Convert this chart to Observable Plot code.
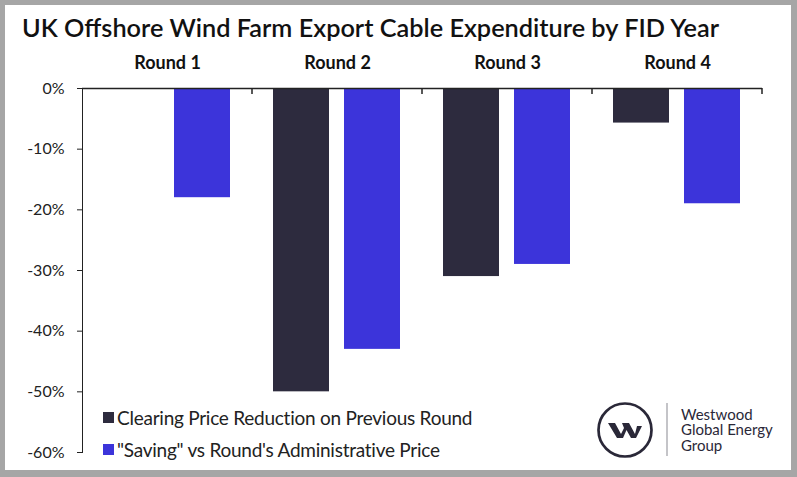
<!DOCTYPE html>
<html><head><meta charset="utf-8">
<script src="https://cdn.jsdelivr.net/npm/d3@7"></script>
<script src="https://cdn.jsdelivr.net/npm/@observablehq/plot@0.6"></script>
<style>
body{margin:0;background:#fff;}
#wrap{position:relative;width:797px;height:477px;background:#a6a6a6;overflow:hidden;font-family:Lato,sans-serif;}
#inner{position:absolute;left:5px;top:5px;width:786px;height:465px;background:#fff;}
#chart{position:absolute;left:0;top:0;}
#overlay{position:absolute;left:0;top:0;pointer-events:none;}
</style></head>
<body>
<div id="wrap"><div id="inner"></div><div id="chart"></div>
<svg id="overlay" width="797" height="477" font-family="Lato, sans-serif">
  <text x="22" y="37" font-size="25.3" font-weight="600" fill="#111">UK Offshore Wind Farm Export Cable Expenditure by FID Year</text>
  <g id="legend"></g>
  <g id="logo">
    <circle cx="625" cy="430" r="26.5" fill="none" stroke="#2a2838" stroke-width="2.7"/>
    <path transform="translate(608,423)" fill="#2a2838" d="M0,0 L7,0 L13,11 L16,5 L14,0 L21,0 L27,11 L29,3 L34,3 L28,15 L23,15 L18.5,7 L15,15 L9,15 Z"/>
    <line x1="667" x2="667" y1="403" y2="456" stroke="#c4c4c8" stroke-width="2"/>
    <text font-size="15" fill="#2a2838">
      <tspan x="681" y="419.5">Westwood</tspan>
      <tspan x="681" y="435">Global Energy</tspan>
      <tspan x="681" y="450.5">Group</tspan>
    </text>
  </g>
</svg>
</div>
<script>
const rounds = ["Round 1", "Round 2", "Round 3", "Round 4"];
const seriesNames = ["Clearing Price Reduction on Previous Round", "\"Saving\" vs Round's Administrative Price"];
const clearingValues = [null, -50, -31, -5.7];
const savingValues = [-18, -43, -29, -19];
const yTicks = [0, -10, -20, -30, -40, -50, -60];
const colors = ["#2d2b3e", "#3c34da"];

const data = [];
rounds.forEach((r, i) => {
  if (clearingValues[i] != null) data.push({round: r, series: seriesNames[0], value: clearingValues[i]});
  if (savingValues[i] != null) data.push({round: r, series: seriesNames[1], value: savingValues[i]});
});

const boundaryTicks = Plot.ruleY([0], {
  render(I, scales, values, dims) {
    const x = dims.width - dims.marginRight;
    const y0 = scales.y(0);
    const g = d3.create("svg:g");
    g.append("line").attr("x1", x).attr("x2", x).attr("y1", y0).attr("y2", y0 + 6)
      .attr("stroke", "#222").attr("stroke-width", 1.5);
    return g.node();
  }
});

const chart = Plot.plot({
  width: 797, height: 477,
  marginLeft: 81, marginRight: 35, marginTop: 88, marginBottom: 25,
  style: {background: "transparent", fontFamily: "Lato, sans-serif", fontSize: "16px", color: "#222"},
  fx: {domain: rounds, padding: 0, label: null},
  x: {domain: seriesNames, paddingInner: 0.21, paddingOuter: 0.3, axis: null},
  y: {domain: [-60, 0], ticks: yTicks, tickFormat: d => `${d}%`, label: null, tickSize: 5, tickPadding: 13, line: true},
  color: {domain: seriesNames, range: colors},
  marks: [
    Plot.axisFx({anchor: "top", tickSize: 0, tickPadding: 20, label: null, fontSize: 18, fontWeight: "bold", fill: "#111"}),
    Plot.barY(data, {fx: "round", x: "series", y: "value", fill: "series"}),
    Plot.ruleY([0], {stroke: "#222", strokeWidth: 1.5}),
    boundaryTicks
  ]
});
document.getElementById("chart").appendChild(chart);

const legend = d3.select("#legend");
seriesNames.forEach((s, i) => {
  const yb = 425 + i * 32;
  legend.append("rect").attr("x", 103).attr("y", yb - 13).attr("width", 11).attr("height", 11).attr("fill", colors[i]);
  legend.append("text").attr("x", 117).attr("y", yb).attr("font-size", 19).attr("letter-spacing", "-0.25px").attr("fill", "#222").text(s);
});
</script>
</body></html>
